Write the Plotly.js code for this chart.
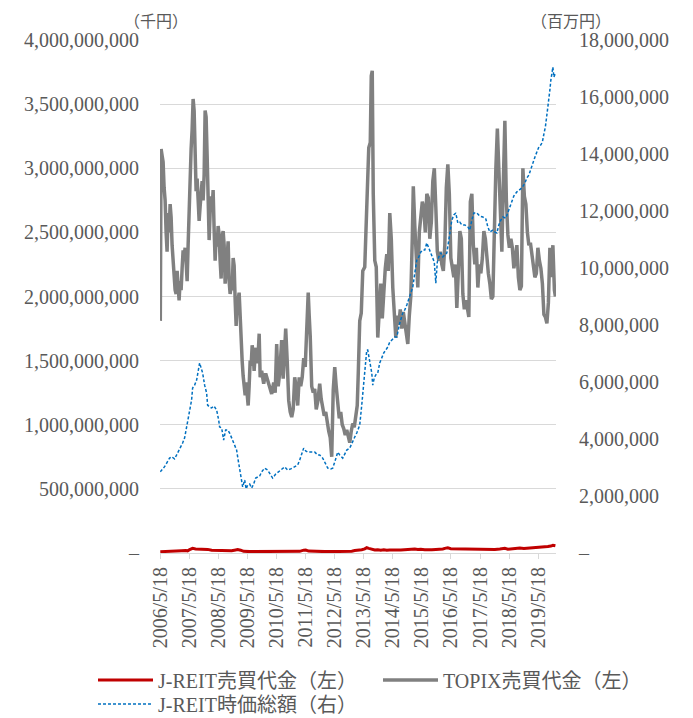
<!DOCTYPE html>
<html>
<head>
<meta charset="utf-8">
<script src="https://cdn.plot.ly/plotly-3.0.1.min.js"></script>
<style>
  html, body { margin: 0; padding: 0; background: #ffffff; }
  #chart { width: 693px; height: 718px; }
</style>
</head>
<body>
<div id="chart"></div>
<script>
// ---------- DATA ----------
// x values are decimal years
const tickLabels = ["2006/5/18","2007/5/18","2008/5/18","2009/5/18","2010/5/18","2011/5/18","2012/5/18",
                    "2013/5/18","2014/5/18","2015/5/18","2016/5/18","2017/5/18","2018/5/18","2019/5/18"];
const tickYears = [2006.378,2007.378,2008.378,2009.378,2010.378,2011.378,2012.378,
                   2013.378,2014.378,2015.378,2016.378,2017.378,2018.378,2019.378];

const leftTickVals = [0,5e8,1e9,1.5e9,2e9,2.5e9,3e9,3.5e9,4e9];
const leftTickText = ["–","500,000,000","1,000,000,000","1,500,000,000","2,000,000,000",
                      "2,500,000,000","3,000,000,000","3,500,000,000","4,000,000,000"];
const rightTickVals = [0,2e6,4e6,6e6,8e6,10e6,12e6,14e6,16e6,18e6];
const rightTickText = ["–","2,000,000","4,000,000","6,000,000","8,000,000","10,000,000",
                       "12,000,000","14,000,000","16,000,000","18,000,000"];

// TOPIX trading value (千円, left axis)
const topixX = [2006.380,2006.408,2006.442,2006.477,2006.511,2006.546,2006.580,2006.614,2006.649,2006.683,
2006.718,2006.752,2006.786,2006.821,2006.855,2006.890,2006.924,2006.959,2006.993,2007.027,
2007.062,2007.096,2007.131,2007.165,2007.199,2007.234,2007.268,2007.303,2007.337,2007.372,
2007.406,2007.440,2007.475,2007.509,2007.544,2007.578,2007.612,2007.647,2007.681,2007.716,
2007.750,2007.784,2007.819,2007.853,2007.888,2007.922,2007.956,2007.991,2008.025,2008.060,
2008.094,2008.129,2008.163,2008.197,2008.232,2008.266,2008.301,2008.335,2008.369,2008.404,
2008.438,2008.473,2008.507,2008.542,2008.576,2008.610,2008.645,2008.679,2008.714,2008.748,
2008.782,2008.817,2008.851,2008.886,2008.920,2008.955,2008.989,2009.023,2009.058,2009.092,
2009.127,2009.161,2009.195,2009.230,2009.264,2009.299,2009.333,2009.368,2009.402,2009.436,
2009.471,2009.505,2009.540,2009.574,2009.608,2009.643,2009.677,2009.712,2009.746,2009.781,
2009.815,2009.867,2009.936,2010.005,2010.073,2010.142,2010.211,2010.280,2010.332,2010.383,
2010.435,2010.486,2010.555,2010.607,2010.659,2010.693,2010.745,2010.796,2010.848,2010.900,
2010.951,2011.003,2011.055,2011.106,2011.158,2011.210,2011.261,2011.313,2011.365,2011.416,
2011.468,2011.502,2011.537,2011.588,2011.640,2011.692,2011.743,2011.795,2011.863,2011.915,
2011.967,2012.018,2012.070,2012.122,2012.173,2012.225,2012.276,2012.328,2012.380,2012.431,
2012.483,2012.535,2012.586,2012.638,2012.689,2012.741,2012.793,2012.844,2012.896,2012.948,
2012.999,2013.051,2013.103,2013.154,2013.189,2013.240,2013.292,2013.344,2013.412,2013.464,
2013.498,2013.550,2013.602,2013.636,2013.670,2013.705,2013.757,2013.808,2013.860,2013.911,
2013.963,2014.015,2014.066,2014.118,2014.170,2014.221,2014.273,2014.325,2014.376,2014.428,
2014.480,2014.531,2014.583,2014.634,2014.686,2014.738,2014.789,2014.841,2014.893,2014.944,
2014.996,2015.048,2015.082,2015.134,2015.185,2015.237,2015.288,2015.340,2015.392,2015.443,
2015.495,2015.547,2015.598,2015.650,2015.702,2015.753,2015.805,2015.856,2015.908,2015.960,
2016.011,2016.063,2016.115,2016.166,2016.218,2016.270,2016.321,2016.373,2016.424,2016.476,
2016.528,2016.579,2016.631,2016.683,2016.734,2016.786,2016.837,2016.889,2016.941,2016.992,
2017.044,2017.096,2017.147,2017.199,2017.250,2017.302,2017.354,2017.405,2017.457,2017.509,
2017.560,2017.612,2017.663,2017.715,2017.767,2017.818,2017.870,2017.922,2017.973,2018.025,
2018.076,2018.128,2018.180,2018.231,2018.283,2018.335,2018.386,2018.438,2018.489,2018.541,
2018.593,2018.644,2018.696,2018.748,2018.799,2018.851,2018.902,2018.954,2019.006,2019.057,
2019.109,2019.161,2019.212,2019.264,2019.315,2019.367,2019.419,2019.470,2019.522,2019.574,
2019.625,2019.677,2019.728,2019.780,2019.832,2019.883,2019.935,2019.969];
const topixVal = [1.81e9,3.15e9,3.10e9,3.05e9,2.85e9,2.75e9,2.50e9,2.35e9,2.65e9,2.50e9,
2.72e9,2.62e9,2.40e9,2.28e9,2.12e9,2.05e9,2.02e9,2.20e9,2.08e9,1.97e9,
2.12e9,2.05e9,2.22e9,2.36e9,2.30e9,2.38e9,2.27e9,2.12e9,2.40e9,2.75e9,
2.85e9,3.15e9,3.30e9,3.54e9,3.45e9,2.94e9,2.82e9,2.92e9,2.75e9,2.59e9,
2.70e9,2.83e9,2.90e9,2.75e9,2.95e9,3.45e9,3.40e9,3.10e9,2.56e9,2.44e9,
2.66e9,2.78e9,2.68e9,2.83e9,2.52e9,2.28e9,2.47e9,2.39e9,2.55e9,2.48e9,
2.28e9,2.14e9,2.47e9,2.51e9,2.40e9,2.10e9,2.20e9,2.35e9,2.43e9,2.12e9,
2.02e9,2.08e9,2.05e9,2.30e9,2.24e9,1.97e9,1.77e9,1.97e9,1.98e9,2.03e9,
1.80e9,1.56e9,1.50e9,1.38e9,1.30e9,1.23e9,1.33e9,1.23e9,1.15e9,1.30e9,
1.50e9,1.46e9,1.62e9,1.55e9,1.42e9,1.55e9,1.60e9,1.48e9,1.55e9,1.71e9,
1.37e9,1.42e9,1.32e9,1.40e9,1.35e9,1.30e9,1.24e9,1.33e9,1.25e9,1.63e9,
1.30e9,1.40e9,1.66e9,1.36e9,1.55e9,1.75e9,1.50e9,1.19e9,1.10e9,1.06e9,
1.12e9,1.37e9,1.29e9,1.15e9,1.37e9,1.30e9,1.37e9,1.52e9,1.45e9,1.76e9,
2.03e9,1.85e9,1.69e9,1.30e9,1.25e9,1.28e9,1.12e9,1.18e9,1.32e9,1.20e9,
1.12e9,1.07e9,1.10e9,1.01e9,0.95e9,0.90e9,0.75e9,1.27e9,1.45e9,1.30e9,
1.15e9,1.05e9,1.10e9,1.00e9,0.97e9,0.92e9,0.96e9,0.90e9,0.86e9,0.95e9,
1.01e9,0.98e9,1.10e9,1.15e9,1.40e9,1.81e9,1.87e9,2.20e9,2.23e9,2.60e9,
3.00e9,3.16e9,3.20e9,3.72e9,3.76e9,2.80e9,2.28e9,2.23e9,1.68e9,1.97e9,
2.10e9,1.83e9,2.05e9,2.22e9,2.33e9,2.20e9,2.65e9,2.45e9,2.07e9,1.81e9,
1.68e9,1.85e9,1.78e9,1.90e9,1.75e9,1.88e9,1.80e9,1.70e9,1.63e9,1.85e9,
2.00e9,2.46e9,2.86e9,2.55e9,2.30e9,2.07e9,2.50e9,2.62e9,2.74e9,2.69e9,
2.50e9,2.80e9,2.77e9,2.45e9,2.58e9,2.90e9,3.00e9,2.70e9,2.35e9,2.28e9,
2.35e9,2.25e9,2.20e9,2.40e9,2.85e9,3.03e9,2.80e9,2.30e9,2.20e9,2.15e9,
2.25e9,1.91e9,2.20e9,2.51e9,2.45e9,2.02e9,1.90e9,1.97e9,1.91e9,1.84e9,
2.74e9,2.80e9,2.40e9,2.25e9,2.38e9,2.07e9,2.25e9,2.18e9,2.30e9,2.51e9,
2.45e9,2.30e9,2.18e9,2.10e9,1.98e9,2.00e9,2.60e9,3.00e9,3.31e9,2.95e9,
2.55e9,2.35e9,2.90e9,3.37e9,2.75e9,2.48e9,2.38e9,2.45e9,2.38e9,2.22e9,
2.30e9,2.40e9,2.15e9,2.05e9,2.08e9,3.00e9,2.78e9,2.72e9,2.50e9,2.40e9,
2.42e9,2.32e9,2.20e9,2.15e9,2.18e9,2.38e9,2.28e9,2.22e9,2.10e9,1.86e9,
1.84e9,1.79e9,1.95e9,2.38e9,2.15e9,2.40e9,2.05e9,2.00e9];

// J-REIT trading value (千円, left axis)
const reitTradeX = [2006.380,2006.700,2006.976,2007.113,2007.251,2007.320,2007.389,2007.492,2007.595,2007.733,
2007.905,2008.008,2008.146,2008.421,2008.697,2008.834,2008.972,2009.041,2009.144,2009.247,
2009.454,2009.798,2010.142,2010.486,2010.831,2011.175,2011.312,2011.381,2011.484,2011.691,
2012.035,2012.380,2012.724,2012.965,2013.068,2013.206,2013.309,2013.412,2013.481,2013.550,
2013.653,2013.756,2013.860,2013.963,2014.066,2014.169,2014.273,2014.376,2014.514,2014.652,
2014.789,2014.927,2015.030,2015.133,2015.236,2015.340,2015.477,2015.581,2015.718,2015.856,
2015.994,2016.097,2016.200,2016.269,2016.372,2016.510,2016.682,2016.854,2017.026,2017.198,
2017.370,2017.543,2017.715,2017.887,2018.059,2018.231,2018.334,2018.472,2018.609,2018.747,
2018.885,2019.023,2019.160,2019.298,2019.436,2019.573,2019.711,2019.814,2019.883,2019.969];
const reitTradeVal = [1.0e7,1.1e7,1.2e7,1.8e7,2.0e7,1.7e7,2.6e7,3.6e7,3.1e7,3.0e7,
3.0e7,2.8e7,2.1e7,2.0e7,2.0e7,1.8e7,2.4e7,2.7e7,2.2e7,1.3e7,
1.1e7,1.1e7,1.1e7,1.1e7,1.1e7,1.3e7,2.2e7,2.3e7,1.5e7,1.2e7,
1.1e7,1.1e7,1.2e7,1.4e7,1.9e7,2.0e7,2.5e7,3.2e7,4.1e7,3.6e7,
2.9e7,2.3e7,2.6e7,2.2e7,2.5e7,2.1e7,2.4e7,2.2e7,2.3e7,2.4e7,
2.7e7,2.9e7,3.0e7,3.1e7,2.7e7,2.9e7,2.5e7,2.4e7,2.6e7,2.8e7,
2.9e7,3.2e7,3.8e7,4.0e7,3.4e7,3.3e7,3.3e7,3.1e7,3.0e7,2.9e7,
2.8e7,3.0e7,2.7e7,2.8e7,3.1e7,3.6e7,3.0e7,3.3e7,3.5e7,3.8e7,
3.5e7,3.7e7,3.8e7,4.0e7,4.4e7,4.6e7,5.0e7,5.4e7,6.0e7,5.6e7];

// J-REIT market capitalisation (百万円, right axis)
const reitCapX = [2006.380,2006.528,2006.700,2006.769,2006.872,2006.976,2007.044,2007.148,2007.217,2007.285,
2007.320,2007.389,2007.457,2007.492,2007.561,2007.630,2007.698,2007.733,2007.784,2007.836,
2007.905,2007.974,2008.008,2008.077,2008.146,2008.215,2008.249,2008.318,2008.387,2008.421,
2008.490,2008.559,2008.628,2008.697,2008.765,2008.834,2008.938,2009.006,2009.041,2009.110,
2009.178,2009.213,2009.282,2009.333,2009.385,2009.454,2009.523,2009.591,2009.660,2009.729,
2009.798,2009.867,2009.970,2010.073,2010.142,2010.245,2010.349,2010.418,2010.521,2010.659,
2010.762,2010.865,2011.003,2011.106,2011.175,2011.244,2011.312,2011.381,2011.450,2011.588,
2011.691,2011.794,2011.863,2011.966,2012.035,2012.139,2012.242,2012.311,2012.380,2012.483,
2012.552,2012.655,2012.724,2012.793,2012.896,2012.965,2013.068,2013.137,2013.240,2013.309,
2013.343,2013.412,2013.481,2013.515,2013.584,2013.653,2013.687,2013.739,2013.791,2013.860,
2013.928,2013.997,2014.066,2014.135,2014.204,2014.273,2014.341,2014.445,2014.514,2014.617,
2014.720,2014.789,2014.858,2014.961,2015.064,2015.133,2015.202,2015.271,2015.340,2015.408,
2015.477,2015.546,2015.615,2015.684,2015.753,2015.804,2015.856,2015.908,2015.959,2016.028,
2016.097,2016.166,2016.235,2016.303,2016.355,2016.407,2016.475,2016.544,2016.613,2016.682,
2016.751,2016.854,2016.957,2017.026,2017.095,2017.164,2017.267,2017.370,2017.474,2017.577,
2017.646,2017.715,2017.818,2017.887,2017.956,2018.024,2018.093,2018.162,2018.265,2018.334,
2018.403,2018.472,2018.541,2018.644,2018.747,2018.816,2018.919,2018.988,2019.057,2019.126,
2019.195,2019.264,2019.332,2019.401,2019.470,2019.522,2019.573,2019.625,2019.676,2019.728,
2019.780,2019.814,2019.849,2019.883,2019.917,2019.969];
const reitCapVal = [2.85e6,3.03e6,3.33e6,3.38e6,3.30e6,3.51e6,3.61e6,3.86e6,4.04e6,4.42e6,
4.56e6,5.02e6,5.37e6,5.79e6,5.89e6,6.07e6,6.42e6,6.67e6,6.49e6,6.32e6,
5.89e6,5.61e6,5.19e6,5.12e6,5.09e6,5.16e6,5.12e6,5.02e6,4.67e6,4.42e6,
4.39e6,3.96e6,4.32e6,4.32e6,4.21e6,4.04e6,3.79e6,3.61e6,3.37e6,2.91e6,
2.46e6,2.32e6,2.56e6,2.25e6,2.39e6,2.42e6,2.28e6,2.42e6,2.63e6,2.67e6,
2.70e6,2.85e6,2.98e6,2.91e6,2.81e6,2.63e6,2.77e6,2.84e6,2.91e6,3.02e6,
2.91e6,2.95e6,3.02e6,3.09e6,3.26e6,3.44e6,3.68e6,3.58e6,3.54e6,3.54e6,
3.54e6,3.44e6,3.44e6,3.33e6,3.19e6,2.98e6,2.95e6,2.98e6,3.19e6,3.54e6,
3.44e6,3.33e6,3.47e6,3.61e6,3.68e6,3.86e6,4.07e6,4.21e6,4.49e6,5.19e6,
5.61e6,6.18e6,7.12e6,7.12e6,6.77e6,6.32e6,5.89e6,6.14e6,6.25e6,6.32e6,
6.67e6,6.88e6,7.02e6,7.12e6,7.23e6,7.40e6,7.47e6,7.58e6,7.58e6,8.07e6,
8.42e6,8.53e6,8.70e6,8.98e6,9.33e6,9.82e6,10.28e6,10.39e6,10.56e6,10.63e6,
10.63e6,10.88e6,10.70e6,10.46e6,10.35e6,10.21e6,9.47e6,10.21e6,10.39e6,10.53e6,
10.39e6,10.46e6,10.53e6,10.98e6,11.44e6,11.68e6,11.86e6,11.93e6,11.58e6,11.61e6,
11.51e6,11.51e6,11.44e6,11.33e6,11.68e6,11.93e6,11.93e6,11.82e6,11.79e6,11.72e6,
11.44e6,11.26e6,11.33e6,11.26e6,11.23e6,11.51e6,11.68e6,11.79e6,11.75e6,11.96e6,
12.14e6,12.39e6,12.53e6,12.67e6,12.74e6,12.81e6,12.98e6,13.16e6,13.26e6,13.44e6,
13.68e6,13.89e6,14.07e6,14.25e6,14.32e6,14.42e6,14.70e6,14.95e6,15.37e6,15.75e6,
16.25e6,16.60e6,16.95e6,17.05e6,16.70e6,16.84e6];

const seriesNames = ["J-REIT売買代金（左）","TOPIX売買代金（左）","J-REIT時価総額（右）"];

// ---------- CHART ----------
const FONT = "Liberation Serif, 'Noto Sans CJK JP', serif";
const TXT = "#595959";

const traces = [
  { x: reitTradeX, y: reitTradeVal, name: seriesNames[0], type: "scatter", mode: "lines",
    line: { color: "#c00000", width: 3 }, yaxis: "y", legend: "legend", hoverinfo: "skip" },
  { x: topixX, y: topixVal, name: seriesNames[1], type: "scatter", mode: "lines",
    line: { color: "#808080", width: 3.5 }, yaxis: "y", legend: "legend2", hoverinfo: "skip" },
  { x: reitCapX, y: reitCapVal, name: seriesNames[2], type: "scatter", mode: "lines",
    line: { color: "#0070c0", width: 1.5, dash: "3px,2px" }, yaxis: "y2", legend: "legend3", hoverinfo: "skip" }
];

const legendCommon = {
  orientation: "h", xanchor: "left", yanchor: "middle",
  font: { family: FONT, size: 20, color: TXT },
  bgcolor: "rgba(0,0,0,0)", borderwidth: 0, itemwidth: 55,
  itemclick: false, itemdoubleclick: false
};

const layout = {
  width: 693, height: 718,
  margin: { l: 160, r: 137, t: 40, b: 165, pad: 0, autoexpand: false },
  paper_bgcolor: "#ffffff", plot_bgcolor: "#ffffff",
  font: { family: FONT, color: TXT, size: 20 },
  showlegend: true,
  xaxis: {
    type: "linear", range: [2006.37, 2019.99],
    tickmode: "array", tickvals: tickYears, ticktext: tickLabels, tickangle: -90,
    ticks: "outside", ticklen: 5, tickcolor: "#d9d9d9", tickwidth: 1,
    showline: true, linecolor: "#d9d9d9", linewidth: 1,
    showgrid: false, zeroline: false,
    tickfont: { family: FONT, size: 20, color: TXT }
  },
  yaxis: {
    range: [0, 4e9], tickmode: "array", tickvals: leftTickVals, ticktext: leftTickText,
    showgrid: true, gridcolor: "#d9d9d9", gridwidth: 1, zeroline: false, showline: false,
    ticks: "", ticklabelstandoff: 20,
    tickfont: { family: FONT, size: 20, color: TXT }
  },
  yaxis2: {
    range: [0, 18e6], overlaying: "y", side: "right", tickmode: "array",
    tickvals: rightTickVals, ticktext: rightTickText,
    showgrid: false, zeroline: false, showline: false, ticks: "", ticklabelstandoff: 22,
    tickfont: { family: FONT, size: 20, color: TXT }
  },
  legend:  Object.assign({}, legendCommon, { x: (93 - 160) / 396, y: (553 - 680) / 513 }),
  legend2: Object.assign({}, legendCommon, { x: (378 - 160) / 396, y: (553 - 680) / 513 }),
  legend3: Object.assign({}, legendCommon, { x: (93 - 160) / 396, y: (553 - 704) / 513 }),
  annotations: [
    { text: "（千円）", xref: "paper", yref: "paper", x: (156 - 160) / 396, y: (553 - 20) / 513,
      xanchor: "center", yanchor: "middle", showarrow: false,
      font: { family: "'Noto Sans CJK JP', sans-serif", size: 16, color: TXT } },
    { text: "（百万円）", xref: "paper", yref: "paper", x: (571 - 160) / 396, y: (553 - 20) / 513,
      xanchor: "center", yanchor: "middle", showarrow: false,
      font: { family: "'Noto Sans CJK JP', sans-serif", size: 16, color: TXT } }
  ]
};

Plotly.newPlot("chart", traces, layout, { displayModeBar: false, staticPlot: true });
</script>
</body>
</html>
